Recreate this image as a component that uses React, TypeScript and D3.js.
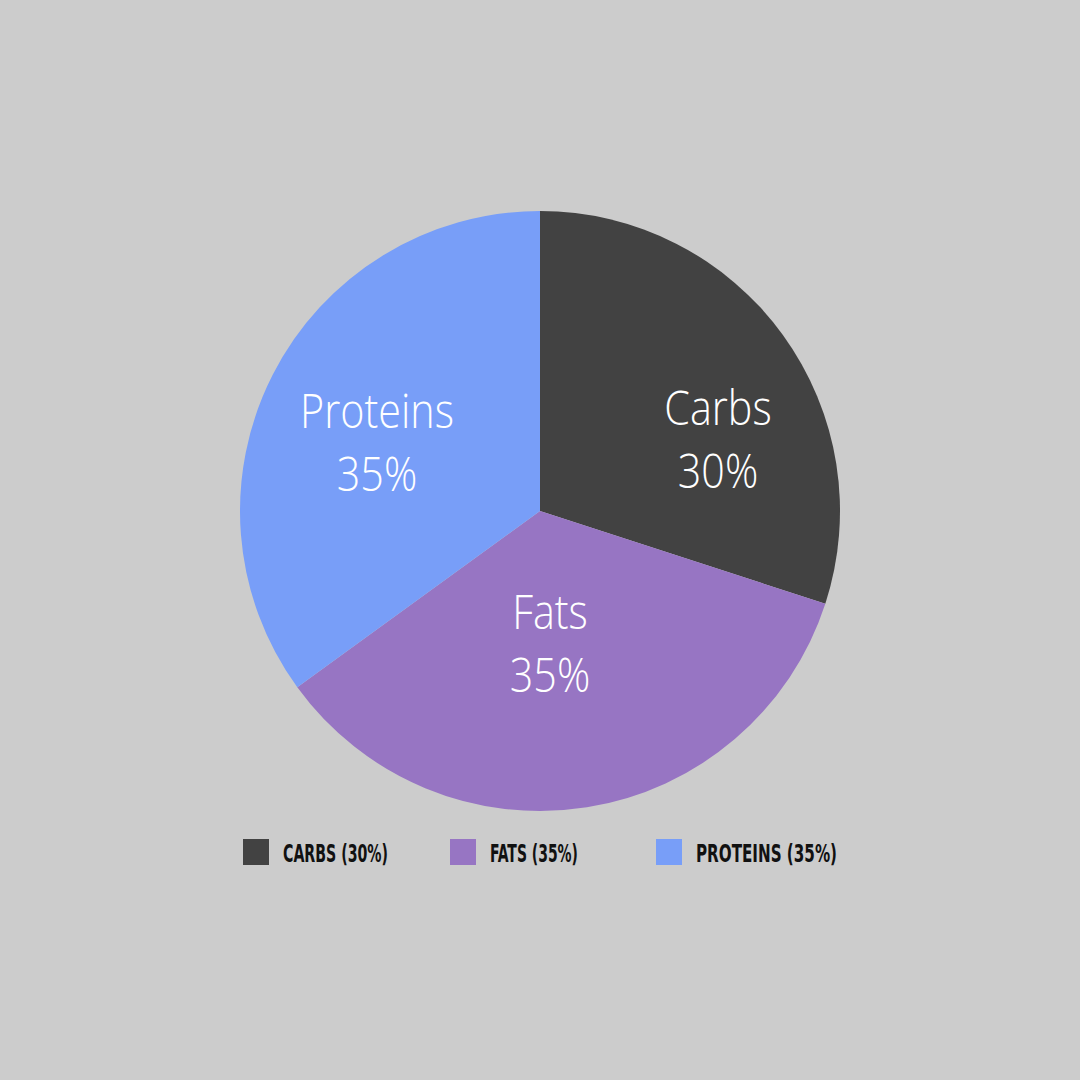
import React from 'react';
import * as d3 from 'd3';

const categories = ['Carbs', 'Fats', 'Proteins'];
const values = [30, 35, 35];
const colors = ['#424242', '#9775c3', '#789ef8'];

const W = 1080;
const H = 1080;
const cx = 540;
const cy = 511;
const radius = 300;

// where each slice label sits, relative to the pie centre
const labelOffsets: [number, number][] = [[178, -64], [10, 140], [-163, -61]];

type Slice = { name: string; value: number; color: string };

const App: React.FC = () => {
  const data: Slice[] = categories.map((c, i) => ({ name: c, value: values[i], color: colors[i] }));
  const pie = d3.pie<Slice>()
    .sort(null)
    .value(d => d.value);
  const arcs = pie(data);
  const arc = d3.arc<d3.PieArcDatum<Slice>>()
    .innerRadius(0)
    .outerRadius(radius);

  // legend layout
  const legendX = d3.scaleOrdinal<string, number>().domain(categories).range([243, 450, 656]);
  const legendWidths = [105, 88, 141];

  return (
    <svg
      width={W}
      height={H}
      style={{ position: 'absolute', left: 0, top: 0, background: '#cccccc' }}
    >
      <rect width={W} height={H} fill="#cccccc" />
      <g transform={`translate(${cx},${cy})`}>
        {arcs.map(a => (
          <path key={a.data.name} d={arc(a) ?? ''} fill={a.data.color} />
        ))}
        {arcs.map((a, i) => {
          const [lx, ly] = labelOffsets[i];
          return (
            <g key={a.data.name + '-label'} transform={`translate(${lx},${ly}) scale(0.86,1)`}
              fill="#ffffff" fontFamily="'Open Sans', sans-serif" fontWeight={300}
              textAnchor="middle" fontSize={48}>
              <text y={-22}>{a.data.name}</text>
              <text y={41}>{a.data.value}%</text>
            </g>
          );
        })}
      </g>
      <g fontFamily="'DejaVu Sans Condensed', 'DejaVu Sans', sans-serif" fontWeight="bold" fontSize={25} fill="#111111">
        {categories.map((c, i) => (
          <g key={c} transform={`translate(${legendX(c)},839)`}>
            <rect width={26} height={26} fill={colors[i]} />
            <text x={40} y={23} textLength={legendWidths[i]} lengthAdjust="spacingAndGlyphs">
              {`${c.toUpperCase()} (${values[i]}%)`}
            </text>
          </g>
        ))}
      </g>
    </svg>
  );
};

export default App;
